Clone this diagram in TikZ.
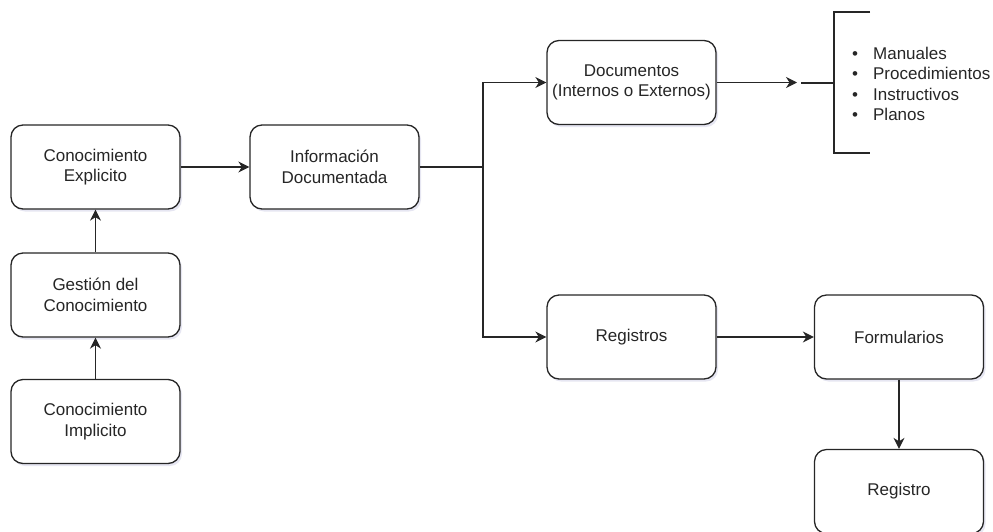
\documentclass[tikz,border=0pt]{standalone}
\usepackage{fontspec}
\setmainfont{Liberation Sans}
\usetikzlibrary{arrows.meta,shadows}
\tikzset{
  box/.style={draw=black!85, line width=1.3pt, rounded corners=12pt, fill=white,
    minimum width=169pt, minimum height=84pt, inner sep=0pt, align=center,
    text=black!85, font=\fontsize{17}{20.5}\selectfont,
    drop shadow={opacity=0.15, shadow xshift=2pt, shadow yshift=-2.5pt, fill=blue!30!gray}},
  conn/.style={draw=black!85, line width=1.3pt},
  arr/.style={conn, -{Stealth[length=11pt,width=11pt,inset=3.5pt]}},
  brack/.style={draw=black!85, line width=2pt},
  listtext/.style={anchor=west, align=left, inner sep=0pt, text=black!85,
    font=\fontsize{17}{20.5}\selectfont}
}
\begin{document}
\begin{tikzpicture}[x=1pt,y=-1pt]
\useasboundingbox (0,0) rectangle (993,531);
\node[box] (ce) at (95.5,167) {Conocimiento\\Explicito};
\node[box] (gc) at (95.5,295) {Gestión del\\Conocimiento};
\node[box] (ci) at (95.5,421.5) {Conocimiento\\Implicito};
\node[box] (id) at (334.5,167) {Información\\Documentada};
\node[box] (doc) at (631.5,82.5) {Documentos\\(Internos o Externos)};
\node[box] (regs) at (631.5,337) {Registros};
\node[box] (form) at (899,337) {Formularios};
\node[box] (reg) at (899,491.5) {Registro};

\draw[arr] (gc) -- (ce);
\draw[arr] (ci) -- (gc);
\draw[arr] (ce) -- (id);
\coordinate (split) at (483,167);
\draw[conn] (id.east) -- (split);
\draw[arr] (split) |- (doc.west);
\draw[arr] (split) |- (regs.west);
\draw[arr] (regs) -- (form);
\draw[arr] (form) -- (reg);

\coordinate (brkin) at (797,82.5);
\coordinate (stub) at (801,82.5);
\coordinate (bmid) at (834,82.5);
\coordinate (btop) at (834,12);
\coordinate (bbot) at (834,153);
\coordinate (btopend) at (870,12);
\coordinate (bbotend) at (870,153);
\draw[arr] (doc.east) -- (brkin);
\draw[brack] (stub) -- (bmid);
\draw[brack] (btopend) -- (btop) -- (bbot) -- (bbotend);

\node[listtext] (list) at (852,84) {\textbullet\hspace{15pt}Manuales\\\textbullet\hspace{15pt}Procedimientos\\\textbullet\hspace{15pt}Instructivos\\\textbullet\hspace{15pt}Planos};
\end{tikzpicture}
\end{document}
